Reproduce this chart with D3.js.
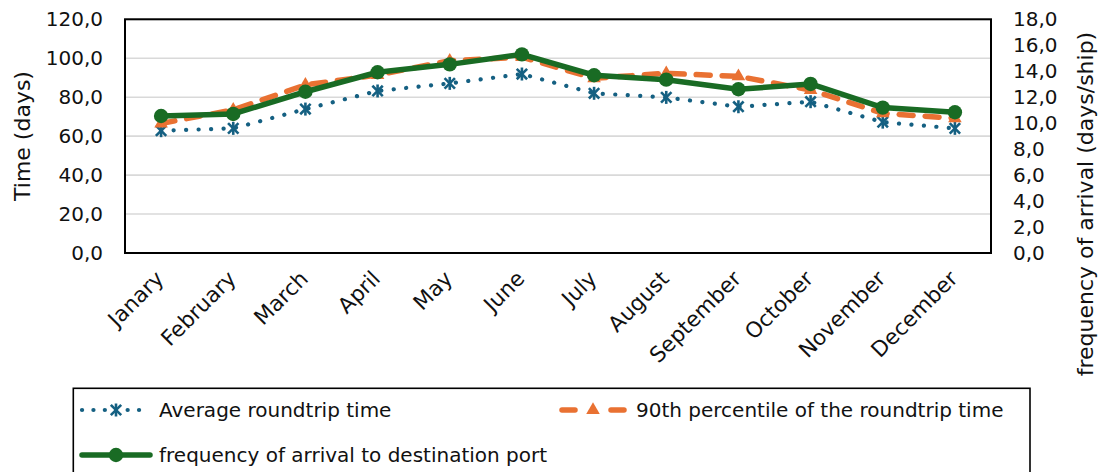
<!DOCTYPE html>
<html><head><meta charset="utf-8">
<script src="https://cdn.jsdelivr.net/npm/d3@7"></script>
<style>
body{margin:0;background:#fff}
svg{display:block}
text{font-family:"DejaVu Sans",sans-serif}
</style>
</head><body>
<svg id="c" width="1102" height="472"></svg>
<script>
// ---- data ----
const months = ["Janary","February","March","April","May","June","July","August","September","October","November","December"];
const avgRoundtrip = [62.8, 64.0, 73.9, 83.2, 87.1, 91.9, 82.0, 79.9, 75.1, 77.7, 67.2, 64.0];
const p90Roundtrip = [66.5, 73.5, 86.3, 91.4, 98.7, 100.6, 89.7, 92.3, 90.7, 83.7, 71.7, 69.2];
const arrivalFreq  = [10.55, 10.71, 12.42, 13.92, 14.53, 15.30, 13.69, 13.35, 12.61, 13.02, 11.20, 10.84];
const leftTicks  = [0, 20, 40, 60, 80, 100, 120];
const rightTicks = [0, 2, 4, 6, 8, 10, 12, 14, 16, 18];
const seriesNames = ["Average roundtrip time", "90th percentile of the roundtrip time", "frequency of arrival to destination port"];
const leftTitle = "Time (days)";
const rightTitle = "frequency of arrival (days/ship)";

// ---- layout ----
const plot = {left:125, right:991, top:19.3, bottom:253};
const C_AVG = "#156082", C_P90 = "#E97132", C_FREQ = "#196B24";
const svg = d3.select("#c");

const x = d3.scaleBand().domain(months).range([plot.left, plot.right]).padding(0);
const cx = m => x(m) + x.bandwidth()/2;
const yL = d3.scaleLinear().domain([0,120]).range([plot.bottom, plot.top]);
const yR = d3.scaleLinear().domain([0,18]).range([plot.bottom, plot.top]);
const loc = d3.formatLocale({decimal:",", thousands:".", grouping:[3], currency:["",""]});
const fmt = loc.format(".1f");

// gridlines
svg.append("g").selectAll("line").data(leftTicks.filter(t => t > 0)).join("line")
  .attr("x1", plot.left).attr("x2", plot.right)
  .attr("y1", d => yL(d)).attr("y2", d => yL(d))
  .attr("stroke", "#d9d9d9").attr("stroke-width", 1.6);

// axes
const axL = svg.append("g").attr("transform", `translate(${plot.left},0)`)
  .call(d3.axisLeft(yL).tickValues(leftTicks).tickFormat(fmt).tickSize(0).tickPadding(22));
axL.select(".domain").remove();
axL.attr("font-size", 20).attr("font-family", "DejaVu Sans").attr("color", "#111");

const axR = svg.append("g").attr("transform", `translate(${plot.right},0)`)
  .call(d3.axisRight(yR).tickValues(rightTicks).tickFormat(fmt).tickSize(0).tickPadding(22));
axR.select(".domain").remove();
axR.attr("font-size", 20).attr("font-family", "DejaVu Sans").attr("color", "#111");

// x labels
svg.append("g").selectAll("text").data(months).join("text")
  .attr("transform", d => `translate(${cx(d) + 4},${280}) rotate(-45)`)
  .attr("text-anchor", "end").attr("font-size", 21.5).attr("fill", "#111")
  .text(d => d);

// axis titles
svg.append("text").attr("transform", `translate(29.5,136) rotate(-90)`)
  .attr("text-anchor", "middle").attr("font-size", 22).attr("fill", "#111").text(leftTitle);
svg.append("text").attr("transform", `translate(1093,204) rotate(-90)`)
  .attr("text-anchor", "middle").attr("font-size", 22).attr("fill", "#111").text(rightTitle);

// plot border
svg.append("rect").attr("x", plot.left).attr("y", plot.top)
  .attr("width", plot.right - plot.left).attr("height", plot.bottom - plot.top)
  .attr("fill", "none").attr("stroke", "#000").attr("stroke-width", 2);

// markers
function star(g, size, sw, color) {
  const r = size/2, d = r*0.8;
  g.append("line").attr("x1",0).attr("x2",0).attr("y1",-r).attr("y2",r);
  g.append("line").attr("x1",-d).attr("x2",d).attr("y1",-d).attr("y2",d);
  g.append("line").attr("x1",-d).attr("x2",d).attr("y1",d).attr("y2",-d);
  g.selectAll("line").attr("stroke", color).attr("stroke-width", sw);
}
const tri = d3.symbol().type(d3.symbolTriangle).size(80);

const lineL = d3.line().x((d,i) => cx(months[i])).y(d => yL(d));
const lineR = d3.line().x((d,i) => cx(months[i])).y(d => yR(d));

// series: average
svg.append("path").datum(avgRoundtrip).attr("d", lineL)
  .attr("fill","none").attr("stroke", C_AVG).attr("stroke-width", 4.2)
  .attr("stroke-linecap","round").attr("stroke-dasharray","0.1 12.4");
svg.append("g").selectAll("g").data(avgRoundtrip).join("g")
  .attr("transform", (d,i) => `translate(${cx(months[i])},${yL(d)})`)
  .each(function(){ star(d3.select(this), 13, 2.6, C_AVG); });

// series: p90
svg.append("path").datum(p90Roundtrip).attr("d", lineL)
  .attr("fill","none").attr("stroke", C_P90).attr("stroke-width", 5.5)
  .attr("stroke-linecap","round").attr("stroke-dasharray","14 12");
svg.append("g").selectAll("path").data(p90Roundtrip).join("path")
  .attr("transform", (d,i) => `translate(${cx(months[i])},${yL(d)})`)
  .attr("d", tri).attr("fill", C_P90);

// series: frequency (secondary axis)
svg.append("path").datum(arrivalFreq).attr("d", lineR)
  .attr("fill","none").attr("stroke", C_FREQ).attr("stroke-width", 5.5)
  .attr("stroke-linejoin","round");
svg.append("g").selectAll("circle").data(arrivalFreq).join("circle")
  .attr("cx", (d,i) => cx(months[i])).attr("cy", d => yR(d)).attr("r", 7.2)
  .attr("fill", C_FREQ);

// legend
svg.append("rect").attr("x", 73.3).attr("y", 388.3).attr("width", 956.7).attr("height", 100)
  .attr("fill","none").attr("stroke","#000").attr("stroke-width",1.6);
const leg = [
  {x0:82, y:410, kind:"avg"},
  {x0:559, y:410, kind:"p90"},
  {x0:82, y:455, kind:"freq"}
];
const L = 68;
leg.forEach((it, k) => {
  const g = svg.append("g");
  const mid = it.x0 + L/2;
  if (it.kind === "avg") {
    g.append("line").attr("x1", it.x0).attr("x2", it.x0 + L).attr("y1", it.y).attr("y2", it.y)
      .attr("stroke", C_AVG).attr("stroke-width", 4.2).attr("stroke-linecap","round").attr("stroke-dasharray","0.1 11.3");
    const s = g.append("g").attr("transform", `translate(${mid},${it.y})`);
    s.append("rect").attr("x",-7).attr("y",-8).attr("width",14).attr("height",16).attr("fill","#fff");
    star(s, 13, 2.6, C_AVG);
  } else if (it.kind === "p90") {
    [[it.x0 + 3, it.x0 + 16], [it.x0 + L - 16, it.x0 + L - 3]].forEach(([a, b]) => {
      g.append("line").attr("x1", a).attr("x2", b).attr("y1", it.y).attr("y2", it.y)
        .attr("stroke", C_P90).attr("stroke-width", 5.5).attr("stroke-linecap","round");
    });
    g.append("path").attr("transform", `translate(${mid},${it.y})`).attr("d", tri).attr("fill", C_P90);
  } else {
    g.append("line").attr("x1", it.x0).attr("x2", it.x0 + L).attr("y1", it.y).attr("y2", it.y)
      .attr("stroke", C_FREQ).attr("stroke-width", 5.5).attr("stroke-linecap","round");
    g.append("circle").attr("cx", mid).attr("cy", it.y).attr("r", 7.2).attr("fill", C_FREQ);
  }
  g.append("text").attr("x", it.x0 + L + 9).attr("y", it.y + 7).attr("font-size", 20)
    .attr("fill", "#111").text(seriesNames[k]);
});
</script>
</body></html>
